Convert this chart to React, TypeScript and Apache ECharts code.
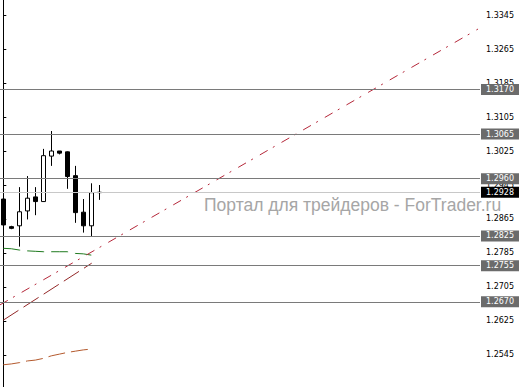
import React, { useEffect, useRef } from "react";
import * as echarts from "echarts";

// Price bars (open, close, low, high) for the visible sessions
const opens = [1.2912, 1.2847, 1.2849, 1.2884, 1.2917, 1.2906, 1.3013, 1.3025, 1.3023, 1.2967, 1.2881, 1.2849, 1.2927];
const closes = [1.2851, 1.2843, 1.2882, 1.2914, 1.2906, 1.3014, 1.3025, 1.302, 1.2965, 1.288, 1.2849, 1.2927, 1.2928];
const lows = [1.2835, 1.2841, 1.28, 1.2864, 1.2874, 1.2905, 1.299, 1.3017, 1.2936, 1.2856, 1.2833, 1.2823, 1.291];
const highs = [1.2959, 1.2849, 1.294, 1.2966, 1.294, 1.303, 1.3072, 1.3025, 1.3024, 1.299, 1.2912, 1.2949, 1.2945];

// Moving averages (one value per bar)
const maGreen = [1.2796, 1.2795, 1.2792, 1.279, 1.2789, 1.2788, 1.2788, 1.2788, 1.2788, 1.2784, 1.2783, 1.278];
const maOrange = [1.2522, 1.2524, 1.2527, 1.2531, 1.2533, 1.2537, 1.2543, 1.2547, 1.2551, 1.2554, 1.2557, 1.2559];

// Trend lines as [bar index, price] end points
const trendLong: [number, number][] = [[-0.4125, 1.2663], [59.34, 1.3312]];
const trendShort: [number, number][] = [[0, 1.2627], [11.05, 1.2761]];

// Horizontal support / resistance levels
const levels = [1.317, 1.3065, 1.296, 1.2825, 1.2755, 1.267];

// Price scale ticks
const tickValues = [1.3345, 1.3265, 1.3185, 1.3105, 1.3025, 1.2945, 1.2865, 1.2785, 1.2705, 1.2625, 1.2545, 1.2465];

const watermark = "Портал для трейдеров - ForTrader.ru";

const X_MIN = -0.4125;
const X_MAX = 59.5875;
const Y_MIN = 1.24697;
const Y_MAX = 1.33803;

const FONT = "DejaVu Sans";

export default function App() {
  const ref = useRef<HTMLDivElement>(null);

  useEffect(() => {
    if (!ref.current) return;
    const chart = echarts.init(ref.current, undefined, { renderer: "svg" });

    const bars = opens.map((o, i) => [i, o, closes[i], lows[i], highs[i]]);
    const lastClose = closes[closes.length - 1];

    const levelData: any[] = levels.map((v) => ({
      yAxis: v,
      lineStyle: { color: "#7a7a7a" },
      label: { backgroundColor: "#6b6b6b" },
    }));
    levelData.push({
      yAxis: lastClose,
      lineStyle: { color: "#c8c8c8" },
      label: { backgroundColor: "#000000" },
    });

    chart.setOption({
      animation: false,
      backgroundColor: "#ffffff",
      grid: { left: 0, right: 40, top: 0, bottom: 0, containLabel: false },
      xAxis: { type: "value", min: X_MIN, max: X_MAX, show: false },
      yAxis: {
        type: "value",
        position: "right",
        min: Y_MIN,
        max: Y_MAX,
        scale: true,
        splitLine: { show: false },
        axisLine: { show: true, lineStyle: { color: "#000", width: 1 } },
        axisTick: {
          show: true,
          length: 3,
          customValues: tickValues,
          lineStyle: { color: "#000" },
        },
        axisLabel: {
          customValues: tickValues,
          formatter: (v: number) => v.toFixed(4),
          fontSize: 8,
          fontFamily: FONT,
          color: "#000",
          margin: 6,
          showMinLabel: true,
          showMaxLabel: true,
        },
      },
      graphic: [
        {
          type: "text",
          left: 204,
          top: 196,
          silent: true,
          z: 0,
          style: {
            text: watermark,
            fill: "#a6a6a6",
            font: '17.5px "Liberation Sans"',
          },
        },
      ],
      series: [
        {
          type: "candlestick",
          data: bars,
          encode: { x: 0, y: [1, 2, 3, 4] },
          barWidth: 5,
          itemStyle: {
            color: "#ffffff",
            color0: "#000000",
            borderColor: "#000000",
            borderColor0: "#000000",
            borderWidth: 1,
          },
          markLine: {
            silent: true,
            symbol: ["none", "none"],
            precision: 4,
            lineStyle: { type: "solid", width: 1 },
            label: {
              show: true,
              position: "end",
              distance: 1,
              formatter: (p: any) => Number(p.value).toFixed(4),
              color: "#ffffff",
              fontSize: 8,
              fontFamily: FONT,
              padding: [2, 5, 1, 5],
            },
            data: levelData,
          },
        },
        {
          type: "line",
          data: maGreen.map((v, i) => [i, v]),
          symbol: "none",
          lineStyle: { color: "#1f7a1f", width: 1, type: [17, 7] },
        },
        {
          type: "line",
          data: maOrange.map((v, i) => [i, v]),
          symbol: "none",
          lineStyle: { color: "#b45a2e", width: 1, type: [17, 6] },
        },
        {
          type: "line",
          data: trendLong,
          symbol: "none",
          lineStyle: { color: "#b5283a", width: 1, type: [9, 6, 2, 8] },
        },
        {
          type: "line",
          data: trendShort,
          symbol: "none",
          lineStyle: { color: "#942828", width: 1, type: [18, 6] },
        },
      ],
    });

    return () => chart.dispose();
  }, []);

  return (
    <div
      ref={ref}
      style={{ position: "absolute", left: 0, top: 0, width: 520, height: 387 }}
    />
  );
}
